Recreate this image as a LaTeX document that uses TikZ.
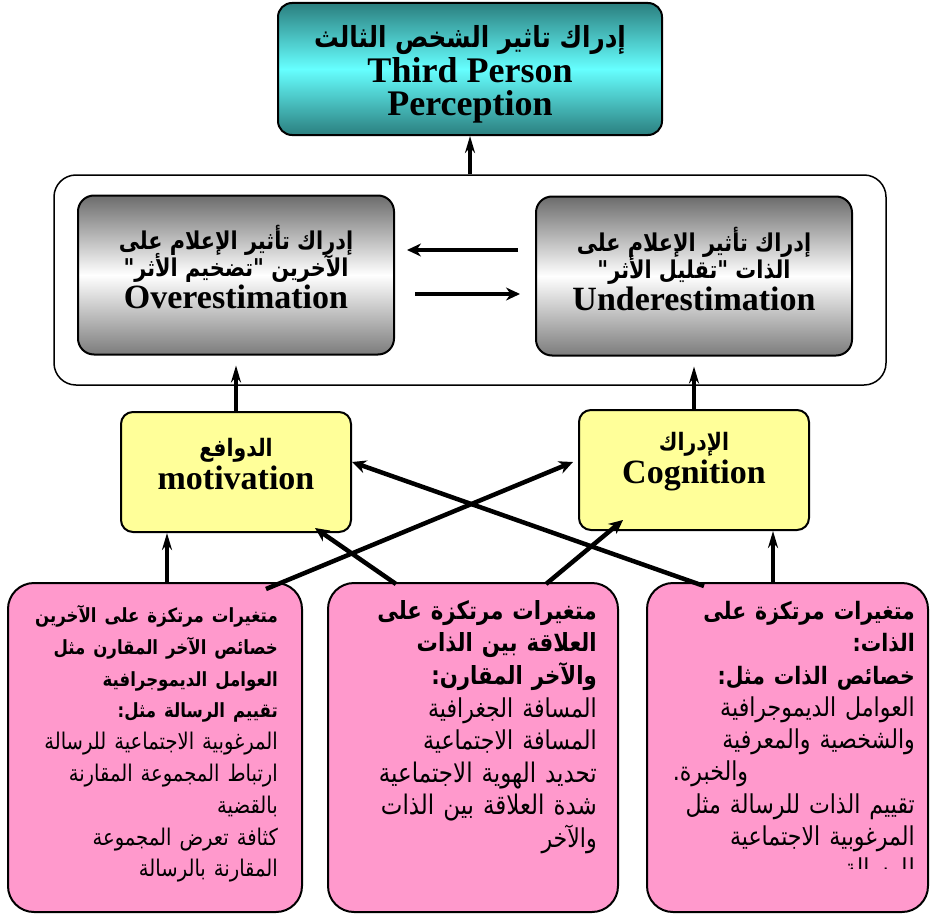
\documentclass[tikz,border=0pt]{standalone}
\usepackage{fontspec}
\setmainfont{Liberation Serif}
\newfontfamily\arabicfont[Script=Arabic, FakeStretch=0.85]{DejaVu Sans}
\usetikzlibrary{arrows.meta}
\TeXXeTstate=1
\newcommand{\ars}[2]{{\fontsize{#1}{#1}\selectfont\arabicfont #2}}
% lines of the variable boxes: bold (b) or plain (p)
\newcommand{\rb}[2]{{\fontsize{#1}{#1}\selectfont\bfseries\arabicfont #2}}
\newcommand{\rp}[2]{{\fontsize{#1}{#1}\selectfont\arabicfont #2}}
\definecolor{tealdark}{HTML}{2B7F7F}
\definecolor{cyanlight}{HTML}{66FFFF}
\definecolor{greydark}{HTML}{6C6C6C}
\definecolor{greylow}{HTML}{7C7C7C}
\definecolor{factoryellow}{HTML}{FFFF99}
\definecolor{varpink}{HTML}{FF99CC}

\begin{document}
\lineskiplimit=-50pt
\begin{tikzpicture}[x=1pt, y=-1pt,
  mainbox/.style={rectangle, draw, line width=2pt, rounded corners=14pt,
                  top color=tealdark, bottom color=tealdark, middle color=cyanlight,
                  minimum width=384pt, minimum height=132pt},
  maintext/.style={align=center, inner sep=0pt, font=\bfseries\fontsize{36}{32.5}\selectfont},
  frame/.style={rectangle, draw, line width=1.5pt, rounded corners=22pt, fill=white,
                minimum width=832pt, minimum height=210pt},
  effbox/.style={rectangle, draw, line width=2pt, rounded corners=16pt,
                 top color=greydark, bottom color=greylow, middle color=white,
                 minimum width=316pt, minimum height=159pt},
  efftext/.style={align=center, inner sep=0pt, font=\bfseries\fontsize{34}{26.5}\selectfont},
  factor/.style={rectangle, draw, line width=2pt, rounded corners=12pt,
                 fill=factoryellow, minimum width=230pt, minimum height=120pt},
  factext/.style={align=center, inner sep=0pt, font=\bfseries\fontsize{34}{33}\selectfont},
  varbox/.style={rectangle, draw, line width=2pt, rounded corners=26pt, fill=varpink,
                 minimum height=329pt},
  vartext/.style={anchor=north east, align=right, inner sep=0pt, text width=400pt},
  link/.style={-{Stealth[length=14pt, width=13pt]}, line width=4.5pt},
  uplink/.style={-{Stealth[length=17pt, width=10pt]}, line width=3.5pt}
]
\useasboundingbox (0,0) rectangle (933,915);

%% top: third person perception
\node[mainbox] (third) at (470,69) {};
\node[maintext] (thirdT) at (470,74)
  {\ars{29}{\beginR إدراك تاثير الشخص الثالث\endR}\\[3pt]Third Person\\Perception};

%% media effect estimation
\node[frame] (media) at (470,280) {};
\node[effbox] (over)  at (236,275) {};
\node[effbox] (under) at (694,276) {};
\node[efftext] (overT) at (236,267)
  {\ars{24.5}{\beginR إدراك تأثير الإعلام على\endR}\\\ars{24.5}{\beginR الآخرين "تضخيم الأثر"\endR}\\[6pt]Overestimation};
\node[efftext] (underT) at (694,269)
  {\ars{24.5}{\beginR إدراك تأثير الإعلام على\endR}\\\ars{24.5}{\beginR الذات "تقليل الأثر"\endR}\\[6pt]Underestimation};

\draw[link] ([xshift=-17pt,yshift=26pt]under.west) -- ([xshift=12pt,yshift=25pt]over.east);
\draw[link] ([xshift=20pt,yshift=-19pt]over.east) -- ([xshift=-15pt,yshift=-18pt]under.west);
\draw[uplink] (media.north) -- (third.south);

%% factors
\node[factor] (motiv) at (236,472) {};
\node[factor] (cogn)  at (694,470) {};
\node[factext] (motivT) at (236,464) {\ars{24}{\beginR الدوافع\endR}\\motivation};
\node[factext] (cognT)  at (694,462) {\ars{24}{\beginR الإدراك\endR}\\Cognition};

\draw[uplink] (motiv.north) -- ([yshift=-10pt]over.south);
\draw[uplink] (cogn.north) -- ([yshift=-10pt]under.south);

%% variable groups
\node[varbox, minimum width=294pt] (others) at (155,747.5) {};
\node[varbox, minimum width=290pt] (relation) at (473,747.5) {};
\node[varbox, minimum width=281pt] (self) at (787.5,747.5) {};

\node[vartext, font=\fontsize{24}{31.8}\selectfont] (othersT) at (278,605) {%
  \rb{19.5}{\beginR متغيرات مرتكزة على الآخرين\endR}\\
  \rb{19.5}{\beginR خصائص الآخر المقارن مثل\endR}\\
  \rb{19.5}{\beginR العوامل الديموجرافية\endR}\\
  \rb{19.5}{\beginR تقييم الرسالة مثل:\endR}\\
  \rp{23}{\beginR المرغوبية الاجتماعية للرسالة\endR}\\
  \rp{23}{\beginR ارتباط المجموعة المقارنة\endR}\\
  \rp{23}{\beginR بالقضية\endR}\\
  \rp{23}{\beginR كثافة تعرض المجموعة\endR}\\
  \rp{23}{\beginR المقارنة بالرسالة\endR}};

\node[vartext, font=\fontsize{27}{32.6}\selectfont] (relationT) at (597,600) {%
  \rb{25}{\beginR متغيرات مرتكزة على\endR}\\
  \rb{25}{\beginR العلاقة بين الذات\endR}\\
  \rb{25}{\beginR والآخر المقارن:\endR}\\
  \rp{26}{\beginR المسافة الجغرافية\endR}\\
  \rp{26}{\beginR المسافة الاجتماعية\endR}\\
  \rp{27}{\beginR تحديد الهوية الاجتماعية\endR}\\
  \rp{27}{\beginR شدة العلاقة بين الذات\endR}\\
  \rp{26}{\beginR والآخر\endR}};

\begin{scope}
  \clip (648,583) rectangle (928,868);
  \node[vartext, font=\fontsize{27}{32.3}\selectfont] (selfT) at (915,601) {%
    \rb{24}{\beginR متغيرات مرتكزة على\endR}\\
    \rb{24}{\beginR الذات:\endR}\\
    \rb{24}{\beginR خصائص الذات مثل:\endR}\\
    \rp{26}{\beginR العوامل الديموجرافية\endR}\\
    \rp{26}{\beginR والشخصية والمعرفية\endR}\\
    \makebox[242pt][l]{\rp{26}{\beginR والخبرة.\endR}}\\
    \rp{26}{\beginR تقييم الذات للرسالة مثل\endR}\\
    \rp{26}{\beginR المرغوبية الاجتماعية\endR}\\
    \rp{26}{\beginR للرسالة\endR}};
\end{scope}

%% links from variables to factors
\draw[uplink] (others.north -| 167,0) -- (motiv.south -| 167,0);
\draw[uplink] (self.north -| 773,0) -- (cogn.south -| 773,0);
\draw[link] ([xshift=-37pt,yshift=-7pt]others.north east) -- ([xshift=-5pt,yshift=8pt]cogn.west);
\draw[link] ([xshift=58pt,yshift=-4pt]self.north west) -- ([yshift=10pt]motiv.east);
\draw[link] ([xshift=69pt,yshift=-2pt]relation.north west) -- ([xshift=-37pt,yshift=5pt]motiv.south east);
\draw[link] ([xshift=-73pt,yshift=-2pt]relation.north east) -- ([xshift=45pt,yshift=11pt]cogn.south west);
\end{tikzpicture}
\end{document}
